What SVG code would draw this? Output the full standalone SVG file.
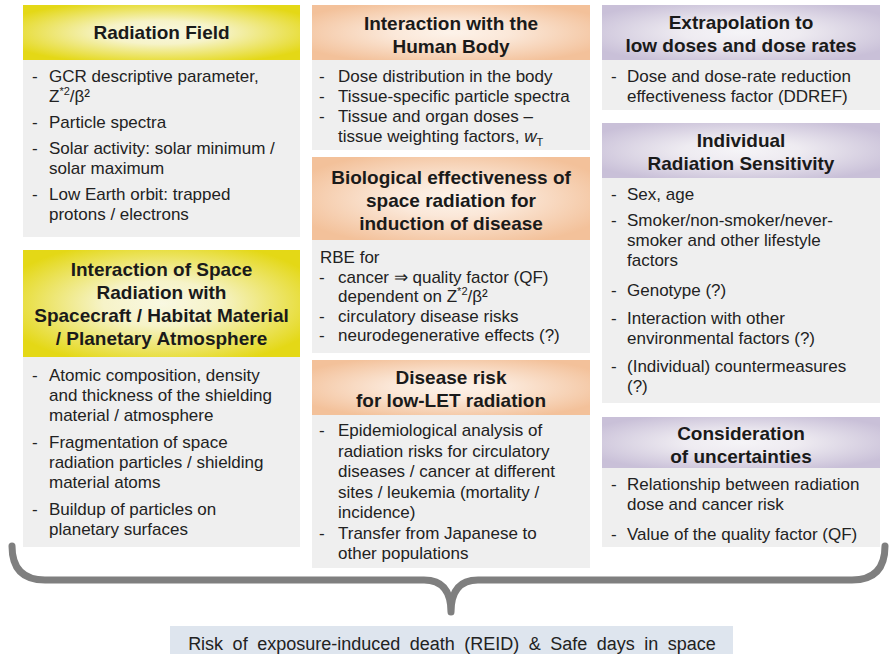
<svg xmlns="http://www.w3.org/2000/svg" width="889" height="654" viewBox="0 0 889 654">
<defs>
<radialGradient id="gy" cx="0.5" cy="0.5" r="0.6">
<stop offset="0" stop-color="#f9f8e2"/><stop offset="0.35" stop-color="#f6f3c8"/><stop offset="1" stop-color="#e4d816"/>
</radialGradient>
<radialGradient id="go" cx="0.5" cy="0.5" r="0.6">
<stop offset="0" stop-color="#fdf3ea"/><stop offset="0.35" stop-color="#fbe8d9"/><stop offset="1" stop-color="#f3c19a"/>
</radialGradient>
<radialGradient id="gp" cx="0.5" cy="0.5" r="0.6">
<stop offset="0" stop-color="#f5f4f7"/><stop offset="0.35" stop-color="#eeebf1"/><stop offset="1" stop-color="#c9c0d8"/>
</radialGradient>
<style>
.body{fill:#efefef}
.hy{fill:url(#gy)}
.ho{fill:url(#go)}
.hp{fill:url(#gp)}
.h{font-family:"Liberation Sans",Arial,sans-serif;font-weight:bold;font-size:19px;fill:#1a1a1a;text-anchor:middle}
.b{font-family:"Liberation Sans",Arial,sans-serif;font-size:17px;fill:#222}
.sup{font-size:11px}
.brace{fill:none;stroke:#7f7f7f;stroke-width:7;stroke-linecap:round;stroke-linejoin:round}
</style>
</defs>
<rect width="889" height="654" fill="#ffffff"/>

<g id="radiation-field">
<rect class="hy" x="23" y="5" width="277" height="55"/>
<rect class="body" x="23" y="60" width="277" height="177"/>
<text class="h" x="161.5" y="39">Radiation Field</text>
<text class="b"><tspan x="32" y="82">-</tspan><tspan x="49" y="82">GCR descriptive parameter,</tspan>
<tspan x="49" y="102">Z</tspan><tspan class="sup" dy="-7">*2</tspan><tspan dy="7">/β²</tspan>
<tspan x="32" y="128">-</tspan><tspan x="49" y="128">Particle spectra</tspan>
<tspan x="32" y="154">-</tspan><tspan x="49" y="154">Solar activity: solar minimum /</tspan>
<tspan x="49" y="174">solar maximum</tspan>
<tspan x="32" y="200">-</tspan><tspan x="49" y="200">Low Earth orbit: trapped</tspan>
<tspan x="49" y="220">protons / electrons</tspan></text>
</g>

<g id="interaction-space-radiation">
<rect class="hy" x="23" y="250" width="277" height="107"/>
<rect class="body" x="23" y="357" width="277" height="190"/>
<text class="h"><tspan x="161.5" y="276">Interaction of Space</tspan><tspan x="161.5" y="299">Radiation with</tspan><tspan x="161.5" y="322">Spacecraft / Habitat Material</tspan><tspan x="161.5" y="345">/ Planetary Atmosphere</tspan></text>
<text class="b"><tspan x="32" y="381">-</tspan><tspan x="49" y="381">Atomic composition, density</tspan>
<tspan x="49" y="401">and thickness of the shielding</tspan>
<tspan x="49" y="421">material / atmosphere</tspan>
<tspan x="32" y="448">-</tspan><tspan x="49" y="448">Fragmentation of space</tspan>
<tspan x="49" y="468">radiation particles / shielding</tspan>
<tspan x="49" y="488">material atoms</tspan>
<tspan x="32" y="515">-</tspan><tspan x="49" y="515">Buildup of particles on</tspan>
<tspan x="49" y="535">planetary surfaces</tspan></text>
</g>

<g id="interaction-human-body">
<rect class="ho" x="312" y="5" width="278" height="55"/>
<rect class="body" x="312" y="60" width="278" height="90"/>
<text class="h"><tspan x="451" y="30">Interaction with the</tspan><tspan x="451" y="53">Human Body</tspan></text>
<text class="b"><tspan x="319" y="82">-</tspan><tspan x="338" y="82">Dose distribution in the body</tspan>
<tspan x="319" y="102">-</tspan><tspan x="338" y="102">Tissue-specific particle spectra</tspan>
<tspan x="319" y="122">-</tspan><tspan x="338" y="122">Tissue and organ doses –</tspan>
<tspan x="338" y="142">tissue weighting factors, </tspan><tspan font-style="italic">w</tspan><tspan class="sup" dy="4">T</tspan></text>
</g>

<g id="biological-effectiveness">
<rect class="ho" x="312" y="157" width="278" height="83"/>
<rect class="body" x="312" y="240" width="278" height="113"/>
<text class="h"><tspan x="451" y="184">Biological effectiveness of</tspan><tspan x="451" y="207">space radiation for</tspan><tspan x="451" y="230">induction of disease</tspan></text>
<text class="b"><tspan x="320" y="263">RBE for</tspan>
<tspan x="319" y="282.5">-</tspan><tspan x="338" y="282.5">cancer ⇒ quality factor (QF)</tspan>
<tspan x="338" y="302">dependent on Z</tspan><tspan class="sup" dy="-7">*2</tspan><tspan dy="7">/β²</tspan>
<tspan x="319" y="321.5">-</tspan><tspan x="338" y="321.5">circulatory disease risks</tspan>
<tspan x="319" y="341">-</tspan><tspan x="338" y="341">neurodegenerative effects (?)</tspan></text>
</g>

<g id="disease-risk">
<rect class="ho" x="312" y="360" width="278" height="55"/>
<rect class="body" x="312" y="415" width="278" height="153"/>
<text class="h"><tspan x="451" y="384">Disease risk</tspan><tspan x="451" y="407">for low-LET radiation</tspan></text>
<text class="b"><tspan x="319" y="436">-</tspan><tspan x="338" y="436">Epidemiological analysis of</tspan>
<tspan x="338" y="456.5">radiation risks for circulatory</tspan>
<tspan x="338" y="477">diseases / cancer at different</tspan>
<tspan x="338" y="497.5">sites / leukemia (mortality /</tspan>
<tspan x="338" y="518">incidence)</tspan>
<tspan x="319" y="538.5">-</tspan><tspan x="338" y="538.5">Transfer from Japanese to</tspan>
<tspan x="338" y="559">other populations</tspan></text>
</g>

<g id="extrapolation">
<rect class="hp" x="602" y="5" width="278" height="55"/>
<rect class="body" x="602" y="60" width="278" height="50"/>
<text class="h"><tspan x="741" y="29">Extrapolation to</tspan><tspan x="741" y="52">low doses and dose rates</tspan></text>
<text class="b"><tspan x="611" y="82">-</tspan><tspan x="627" y="82">Dose and dose-rate reduction</tspan>
<tspan x="627" y="102">effectiveness factor (DDREF)</tspan></text>
</g>

<g id="individual-sensitivity">
<rect class="hp" x="602" y="123" width="278" height="55"/>
<rect class="body" x="602" y="178" width="278" height="225"/>
<text class="h"><tspan x="741" y="147">Individual</tspan><tspan x="741" y="170">Radiation Sensitivity</tspan></text>
<text class="b"><tspan x="611" y="200">-</tspan><tspan x="627" y="200">Sex, age</tspan>
<tspan x="611" y="226">-</tspan><tspan x="627" y="226">Smoker/non-smoker/never-</tspan>
<tspan x="627" y="246">smoker and other lifestyle</tspan>
<tspan x="627" y="266">factors</tspan>
<tspan x="611" y="296">-</tspan><tspan x="627" y="296">Genotype (?)</tspan>
<tspan x="611" y="324">-</tspan><tspan x="627" y="324">Interaction with other</tspan>
<tspan x="627" y="344">environmental factors (?)</tspan>
<tspan x="611" y="372">-</tspan><tspan x="627" y="372">(Individual) countermeasures</tspan>
<tspan x="627" y="392">(?)</tspan></text>
</g>

<g id="uncertainties">
<rect class="hp" x="602" y="417" width="278" height="51"/>
<rect class="body" x="602" y="468" width="278" height="79"/>
<text class="h"><tspan x="741" y="440">Consideration</tspan><tspan x="741" y="463">of uncertainties</tspan></text>
<text class="b"><tspan x="611" y="490">-</tspan><tspan x="627" y="490">Relationship between radiation</tspan>
<tspan x="627" y="510">dose and cancer risk</tspan>
<tspan x="611" y="540">-</tspan><tspan x="627" y="540">Value of the quality factor (QF)</tspan></text>
</g>

<g id="connectors">
<path class="brace" d="M12,546 Q12,580 45,580 L424,580 Q451,580 451,612 Q451,580 478,580 L852,580 Q885,580 885,546"/>
</g>

<g id="reid">
<rect x="170" y="626" width="563" height="28" fill="#dee5ee"/>
<text x="452" y="650" text-anchor="middle" font-family="Liberation Sans, Arial, sans-serif" font-size="18" word-spacing="4.5" fill="#222">Risk of exposure-induced death (REID) &amp; Safe days in space</text>
</g>
</svg>
